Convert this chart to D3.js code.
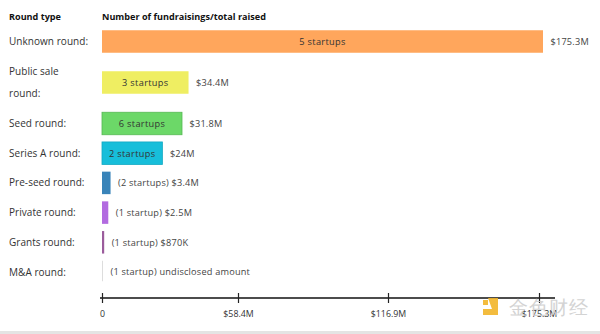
<!DOCTYPE html>
<html>
<head>
<meta charset="utf-8">
<script src="https://cdn.jsdelivr.net/npm/d3@7"></script>
<style>
  html, body { margin: 0; padding: 0; background: #fff; }
  svg { display: block; }
  text { font-family: "Open Sans", "DejaVu Sans", sans-serif; }
</style>
</head>
<body>
<svg id="chart" width="600" height="334"></svg>
<script>
// ---- data ----
const categories = ["Unknown round:", "Public sale\nround:", "Seed round:", "Series A round:",
                    "Pre-seed round:", "Private round:", "Grants round:", "M&A round:"];
const raisedM   = [175.3, 34.4, 31.8, 24, 3.4, 2.5, 0.87, null];
const startups  = [5, 3, 6, 2, 2, 1, 1, 1];
const amountLabels = ["$175.3M", "$34.4M", "$31.8M", "$24M", "$3.4M", "$2.5M", "$870K", "undisclosed amount"];
const barColors = ["#FFA65C", "#EFEE62", "#6CD868", "#17BEDA", "#3984B9", "#B26BE0", "#9B5C9C", "#DDDDDD"];
const tickValues = [0, 58.4, 116.9, 175.3];
const tickLabels = ["0", "$58.4M", "$116.9M", "$175.3M"];
const headerLeft = "Round type";
const headerRight = "Number of fundraisings/total raised";

// ---- layout ----
const svg = d3.select("#chart");
const x = d3.scaleLinear().domain([0, 175.3]).range([102, 543]);
const xAxisScale = d3.scaleLinear().domain(tickValues).range([102, 238, 388, 539]);

// row centres: base pitch plus extra height for wrapped labels
const basePitch = 29.7, extraLine = 22.6;
const lines = categories.map(c => c.split("\n").length);
const centers = [];
let cy = 41.5;
categories.forEach((c, i) => {
  if (i > 0) cy += basePitch + extraLine * ((lines[i - 1] - 1) + (lines[i] - 1)) / 2;
  centers.push(cy);
});
const y = d3.scaleOrdinal().domain(categories).range(centers);
const barH = 22.5;

// background bottom strip
svg.append("rect").attr("x", 0).attr("y", 331).attr("width", 600).attr("height", 3).attr("fill", "#e4e4e4");

// headers
svg.append("text").attr("x", 9).attr("y", 19.5).attr("font-size", 9.1).attr("font-weight", 700)
  .attr("fill", "#111").text(headerLeft);
svg.append("text").attr("x", 102).attr("y", 19.5).attr("font-size", 9.1).attr("font-weight", 700)
  .attr("fill", "#111").text(headerRight);

// category labels
const lab = svg.append("g").selectAll("text").data(categories).join("text")
  .attr("x", 9)
  .attr("font-size", 10)
  .attr("letter-spacing", 0.05)
  .attr("fill", "#333");
lab.each(function(d) {
  const parts = d.split("\n");
  const t = d3.select(this);
  const c = y(d);
  const lh = 22.6;
  parts.forEach((p, k) => {
    t.append("tspan").attr("x", 9)
      .attr("y", c + 3.5 + (k - (parts.length - 1) / 2) * lh)
      .text(p);
  });
});

// bars
const rows = categories.map((c, i) => ({
  cat: c, v: raisedM[i], n: startups[i], amt: amountLabels[i], color: barColors[i]
}));
const bars = svg.append("g");
bars.selectAll("rect").data(rows).join("rect")
  .attr("x", x(0))
  .attr("y", d => y(d.cat) - barH / 2)
  .attr("width", d => d.v == null ? 1 : Math.max(1, x(d.v) - x(0)))
  .attr("height", d => d.v == null ? barH - 2 : barH)
  .attr("fill", d => d.color)
  .attr("stroke", (d, i) => (i === 2 ? "#56b854" : i === 3 ? "#12a8c2" : "none"))
  .attr("stroke-width", 0.8);

const startupTxt = d => `${d.n} startup${d.n > 1 ? "s" : ""}`;
const inside = d => d.v != null && (x(d.v) - x(0)) > 55;

// inside labels
svg.append("g").selectAll("text").data(rows.filter(inside)).join("text")
  .attr("x", d => (x(0) + x(d.v)) / 2)
  .attr("y", d => y(d.cat) + 3.3)
  .attr("text-anchor", "middle")
  .attr("font-size", 9.2)
  .attr("letter-spacing", 0.35)
  .attr("fill", "#333")
  .text(startupTxt);

// outside labels
svg.append("g").selectAll("text").data(rows).join("text")
  .attr("x", d => (d.v == null ? x(0) + 1 : x(d.v)) + 7.5)
  .attr("y", d => y(d.cat) + 3.3)
  .attr("font-size", 9.2)
  .attr("letter-spacing", 0.2)
  .attr("fill", "#444")
  .text(d => inside(d) ? d.amt : `(${startupTxt(d)}) ${d.amt}`);

// axis
const axisY = 298;
const ax = svg.append("g").attr("transform", `translate(0,${axisY})`)
  .call(d3.axisBottom(xAxisScale).tickValues(tickValues)
    .tickFormat((d, i) => tickLabels[i]).tickSize(5).tickPadding(8));
ax.select(".domain").remove();
ax.selectAll(".tick line").attr("y1", -5).attr("y2", 5).attr("stroke", "#222").attr("stroke-width", 1.2);
ax.selectAll(".tick text").attr("font-size", 8.8).attr("fill", "#333")
  .attr("font-family", "'Open Sans', sans-serif").attr("letter-spacing", 0);
ax.insert("line", ":first-child").attr("x1", xAxisScale(0) - 2).attr("x2", xAxisScale(175.3) + 16)
  .attr("y1", 0).attr("y2", 0).attr("stroke", "#111").attr("stroke-width", 1.3);

// watermark
const wm = svg.append("g").attr("opacity", 0.9);
wm.append("path").attr("d", "M488,298 h10 v17 h-15 v-6 h9 z").attr("fill", "#F2B52A");
wm.append("rect").attr("x", 483).attr("y", 300).attr("width", 5).attr("height", 5).attr("fill", "#F2B52A");
wm.append("text").attr("x", 509).attr("y", 314).attr("font-size", 19)
  .attr("font-family", "'Noto Sans CJK SC', sans-serif").attr("fill", "#cfcfcf")
  .attr("letter-spacing", 1).text("金色财经");
</script>
</body>
</html>
